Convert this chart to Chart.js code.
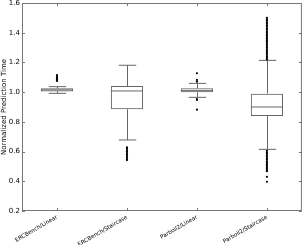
<!DOCTYPE html>
<html>
<head>
<meta charset="utf-8">
<script src="https://cdn.jsdelivr.net/npm/chart.js@4.4.0/dist/chart.umd.min.js"></script>
<style>
  html, body { margin: 0; padding: 0; background: #fff; }
  #wrap { width: 303px; height: 245px; position: relative; }
</style>
</head>
<body>
<div id="wrap"><canvas id="boxchart"></canvas></div>
<script>
const labels = ['ERCBench/Linear', 'ERCBench/Staircase', 'Parboil2/Linear', 'Parboil2/Staircase'];
const q1 = [1.005, 0.885, 0.999, 0.839];
const q3 = [1.026, 1.041, 1.026, 0.990];
const medians = [1.015, 1.008, 1.010, 0.900];
const whiskerLow = [0.992, 0.678, 0.965, 0.615];
const whiskerHigh = [1.037, 1.181, 1.059, 1.214];
const outliers = [
    [1.075, 1.08, 1.085, 1.09, 1.095, 1.10, 1.105, 1.115],
    [0.629, 0.62, 0.61, 0.60, 0.59, 0.58, 0.57, 0.56, 0.55, 0.543],
    [1.127, 1.082, 1.07, 0.954, 0.947, 0.882],
    [1.22, 1.23, 1.24, 1.25, 1.26, 1.27, 1.28, 1.29, 1.30, 1.31, 1.32, 1.33, 1.34, 1.35,
     1.36, 1.37, 1.38, 1.39, 1.40, 1.41, 1.42, 1.43, 1.44, 1.45, 1.46, 1.47, 1.48, 1.49, 1.50,
     0.605, 0.595, 0.585, 0.575, 0.565, 0.555, 0.545, 0.535, 0.525, 0.515, 0.505, 0.495,
     0.485, 0.475, 0.468, 0.43, 0.397]
];

const outlierPoints = [];
outliers.forEach((vals, i) => vals.forEach(v => outlierPoints.push({ x: labels[i], y: v })));

const lineColor = '#666';

const boxParts = {
    id: 'boxParts',
    beforeDatasetsDraw(chart) {
        const c = chart.ctx, x = chart.scales.x, y = chart.scales.y;
        const meta = chart.getDatasetMeta(0);
        c.save();
        c.strokeStyle = lineColor;
        c.lineWidth = 1;
        labels.forEach((lab, i) => {
            const cx = Math.round(x.getPixelForValue(i)) + 0.5;
            const capW = meta.data[i].width * 0.27;
            c.beginPath();
            c.moveTo(cx, y.getPixelForValue(q3[i]));
            c.lineTo(cx, y.getPixelForValue(whiskerHigh[i]));
            c.moveTo(cx, y.getPixelForValue(q1[i]));
            c.lineTo(cx, y.getPixelForValue(whiskerLow[i]));
            c.stroke();
            c.beginPath();
            c.moveTo(cx - capW, y.getPixelForValue(whiskerHigh[i]));
            c.lineTo(cx + capW, y.getPixelForValue(whiskerHigh[i]));
            c.moveTo(cx - capW, y.getPixelForValue(whiskerLow[i]));
            c.lineTo(cx + capW, y.getPixelForValue(whiskerLow[i]));
            c.stroke();
        });
        c.restore();
    },
    afterDatasetsDraw(chart) {
        const c = chart.ctx, x = chart.scales.x, y = chart.scales.y;
        const meta = chart.getDatasetMeta(0);
        const a = chart.chartArea;
        c.save();
        c.strokeStyle = lineColor;
        c.lineWidth = 1;
        labels.forEach((lab, i) => {
            const bar = meta.data[i];
            const my = y.getPixelForValue(medians[i]);
            c.beginPath();
            c.moveTo(bar.x - bar.width / 2, my);
            c.lineTo(bar.x + bar.width / 2, my);
            c.stroke();
        });
        // frame and inward ticks
        c.strokeStyle = '#777';
        c.strokeRect(a.left + 0.5, a.top + 0.5, a.right - a.left - 1, a.bottom - a.top - 1);
        c.beginPath();
        y.ticks.forEach(t => {
            const py = Math.round(y.getPixelForValue(t.value)) + 0.5;
            c.moveTo(a.left, py); c.lineTo(a.left + 3, py);
            c.moveTo(a.right, py); c.lineTo(a.right - 3, py);
        });
        labels.forEach((lab, i) => {
            const px = Math.round(x.getPixelForValue(i)) + 0.5;
            c.moveTo(px, a.bottom); c.lineTo(px, a.bottom - 3);
            c.moveTo(px, a.top); c.lineTo(px, a.top + 3);
        });
        c.stroke();
        c.restore();
    }
};

new Chart(document.getElementById('boxchart'), {
    type: 'bar',
    data: {
        labels: labels,
        datasets: [
            {
                label: 'box',
                data: labels.map((_, i) => [q1[i], q3[i]]),
                backgroundColor: 'rgba(255,255,255,0)',
                borderColor: lineColor,
                borderWidth: 1,
                borderSkipped: false,
                categoryPercentage: 1,
                barPercentage: 0.46
            },
            {
                type: 'scatter',
                label: 'outliers',
                data: outlierPoints,
                pointRadius: 1.1,
                pointBorderWidth: 0,
                pointBackgroundColor: '#000',
                pointHoverRadius: 1
            }
        ]
    },
    options: {
        responsive: true,
        maintainAspectRatio: false,
        animation: false,
        layout: { padding: { top: 3, right: 1, left: 0, bottom: 0 } },
        plugins: { legend: { display: false }, tooltip: { enabled: false } },
        scales: {
            x: {
                type: 'category',
                offset: true,
                grid: { display: false, drawTicks: false },
                border: { display: false },
                afterFit: s => { s.height = 34; },
                ticks: {
                    color: '#000',
                    font: { family: 'DejaVu Sans', size: 5.6 },
                    minRotation: 30,
                    maxRotation: 30,
                    padding: 3
                }
            },
            y: {
                min: 0.2,
                max: 1.6,
                grid: { display: false, drawTicks: false },
                border: { display: false },
                afterFit: s => { s.width = 22; s.paddingTop = 0; s.paddingBottom = 0; },
                ticks: {
                    stepSize: 0.2,
                    color: '#000',
                    font: { family: 'DejaVu Sans', size: 7 },
                    padding: 2,
                    callback: v => v.toFixed(1)
                },
                title: {
                    display: true,
                    text: 'Normalized Prediction Time',
                    color: '#000',
                    font: { family: 'DejaVu Sans', size: 7 },
                    padding: 0
                }
            }
        }
    },
    plugins: [boxParts]
});
</script>
</body>
</html>
